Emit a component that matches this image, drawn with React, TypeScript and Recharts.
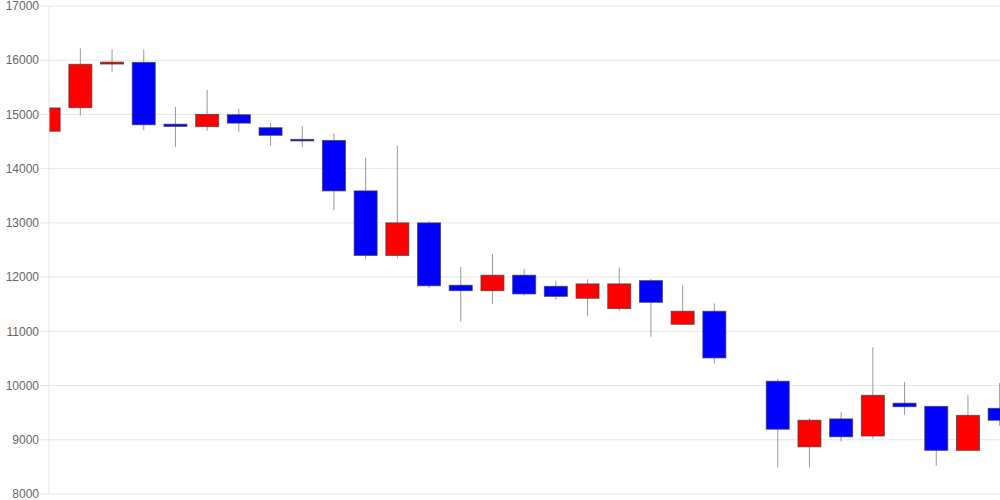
import * as React from "react"
import { ComposedChart, Bar, XAxis, YAxis, CartesianGrid } from "recharts"

// one slot per trading day; slot 22 is empty in the picture
const slots = [0, 1, 2, 3, 4, 5, 6, 7, 8, 9, 10, 11, 12, 13, 14, 15, 16, 17, 18, 19, 20, 21, 22, 23, 24, 25, 26, 27, 28, 29, 30]
const opens = [14690, 15125, 15930, 15960, 14820, 14775, 14995, 14755, 14540, 14520, 13590, 12400, 13000, 11850, 11750, 12035, 11830, 11610, 11420, 11935, 11130, 11370, null, 10080, 8870, 9385, 9070, 9675, 9615, 8805, 9580]
const closes = [15120, 15925, 15965, 14810, 14780, 15000, 14840, 14615, 14530, 13590, 12400, 13000, 11840, 11750, 12035, 11690, 11645, 11875, 11875, 11535, 11370, 10510, null, 9195, 9360, 9055, 9820, 9610, 8805, 9450, 9360]
const highs = [15600, 16220, 16200, 16200, 15140, 15450, 15100, 14840, 14790, 14650, 14200, 14420, 13030, 12190, 12430, 12150, 11935, 11960, 12175, 11965, 11855, 11515, null, 10115, 9395, 9510, 10705, 10070, 9620, 9820, 10045]
const lows = [14550, 14980, 15780, 14710, 14400, 14700, 14680, 14420, 14400, 13230, 12330, 12350, 11800, 11180, 11500, 11660, 11585, 11285, 11375, 10900, 11125, 10405, null, 8490, 8490, 8965, 9020, 9460, 8520, 8805, 9255]
const yTicks = [8000, 9000, 10000, 11000, 12000, 13000, 14000, 15000, 16000, 17000]

const data = slots.map((i) => ({
  i,
  open: opens[i],
  close: closes[i],
  high: highs[i],
  low: lows[i],
  range: opens[i] == null ? null : [lows[i], highs[i]],
}))

function Candle(props: any) {
  const { x, y, width, height, payload } = props
  if (payload == null || payload.open == null) return null
  const { open, close, high, low } = payload
  const top = Math.min(y, y + height)
  const h = Math.abs(height)
  const ratio = high === low ? 0 : h / (high - low)
  const yOf = (v: number) => top + (high - v) * ratio
  const bodyTop = yOf(Math.max(open, close))
  const bodyBot = yOf(Math.min(open, close))
  const cx = x + width / 2
  const up = close >= open
  return (
    <g>
      <line x1={cx} x2={cx} y1={top} y2={top + h} stroke="#999" strokeWidth={1} />
      <rect
        x={x}
        y={bodyTop}
        width={width}
        height={Math.max(bodyBot - bodyTop, 1.5)}
        fill={up ? "#ff0000" : "#0000ff"}
        stroke="rgba(60,60,60,0.7)"
        strokeWidth={1}
      />
    </g>
  )
}

export default function App() {
  return (
    <div style={{ position: "absolute", left: 0, top: 0, width: 1000, height: 500, background: "#fff" }}>
      <ComposedChart width={1000} height={500} data={data} margin={{ top: 6, right: 0, bottom: 6, left: 0 }}>
        <CartesianGrid vertical={false} stroke="#e6e6e6" />
        <XAxis dataKey="i" type="number" domain={[0, 30]} allowDataOverflow hide />
        <YAxis
          domain={[8000, 17000]}
          ticks={yTicks}
          width={49}
          tickSize={9}
          tickMargin={1}
          interval={0}
          stroke="#e6e6e6"
          tick={{ fill: "#666", fontSize: 12, fontFamily: "Liberation Sans, Arial, sans-serif" }}
        />
        <Bar dataKey="range" barSize={23} shape={Candle} isAnimationActive={false} />
      </ComposedChart>
    </div>
  )
}
